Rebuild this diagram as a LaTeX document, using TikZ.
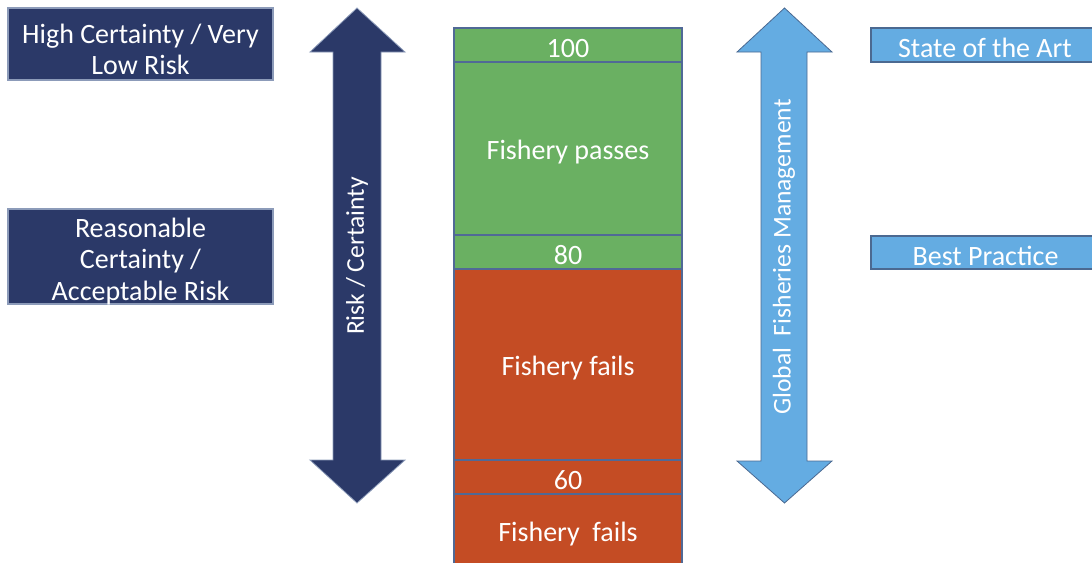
\documentclass[tikz,border=0pt]{standalone}
\usepackage{fontspec}
\setmainfont{Carlito}
\usepackage{xcolor}
\definecolor{navy}{RGB}{43,57,104}
\definecolor{navyedge}{RGB}{140,155,185}
\definecolor{pass}{RGB}{106,176,98}
\definecolor{fail}{RGB}{196,76,36}
\definecolor{celledge}{RGB}{80,105,150}
\definecolor{sky}{RGB}{100,172,226}
\definecolor{skyedge}{RGB}{75,105,145}

\begin{document}
\begin{tikzpicture}[x=0.75pt, y=-0.75pt,
  lbl/.style={font=\fontsize{21}{23.5}\selectfont, text=white, align=center, inner sep=0pt, yshift=-2.5pt},
  sidelbl/.style={font=\fontsize{19.2}{22}\selectfont, text=white, inner sep=0pt, rotate=90},
  navybox/.style={fill=navy, draw=navyedge, line width=0.8pt},
  skybox/.style={fill=sky, draw=skyedge, line width=0.8pt},
  cell/.style={draw=celledge, line width=1.2pt}]
  \clip (0,0) rectangle (1092,562);

  % Left boxes
  \draw[navybox] (8,8) rectangle (273,80);
  \node[lbl] (high) at (140.5,46) {High Certainty / Very\\Low Risk};
  \draw[navybox] (8,209) rectangle (273,304);
  \node[lbl] (reason) at (140.5,258) {Reasonable\\Certainty /\\Acceptable Risk};

  % Risk / Certainty arrow
  \draw[navybox, line width=0.6pt] (357,8) -- (405,52) -- (381,52) -- (381,460) -- (405,460)
    -- (357,503) -- (310,460) -- (333,460) -- (333,52) -- (310,52) -- cycle;
  \node[sidelbl] (risk) at (357,256) {Risk / Certainty};

  % Score column
  \foreach \ya/\yb/\col/\name/\txt in {28/62/pass/top/100, 62/235/pass/passes/Fishery passes,
      235/269/pass/mid/80, 269/460/fail/fails/Fishery fails, 460/494/fail/low/60,
      494/568/fail/under/Fishery\ \ fails} {
    \draw[cell, fill=\col] (454,\ya) rectangle (682,\yb);
    \node[lbl] (\name) at (568,{(\ya+\yb)/2}) {\txt};
  }

  % Global Fisheries Management arrow
  \draw[skybox, line width=0.6pt] (784.5,8) -- (832,52) -- (807,52) -- (807,461) -- (832,461)
    -- (784.5,503) -- (737,461) -- (761,461) -- (761,52) -- (737,52) -- cycle;
  \node[sidelbl] (global) at (784,257) {Global\ \ Fisheries Management};

  % Right boxes
  \draw[skybox] (871,28) rectangle (1100,62);
  \node[lbl] (art) at (985,45) {State of the Art};
  \draw[skybox] (871,236) rectangle (1100,269);
  \node[lbl] (best) at (985.5,253) {Best Practice};
\end{tikzpicture}
\end{document}
